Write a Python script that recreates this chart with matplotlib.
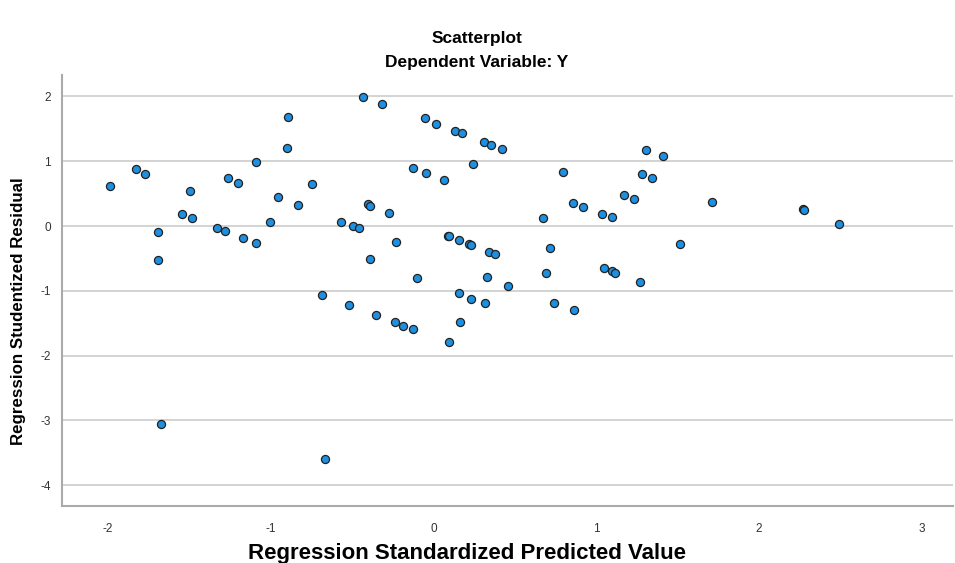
import matplotlib
matplotlib.use("Agg")
import matplotlib.pyplot as plt

# standardized predicted value (x) vs studentized residual (y)
pred = [-1.985, -1.827, -1.772, -1.69, -1.69, -1.543, -1.492, -1.482, -1.329, -1.28,
        -1.168, -1.091, -1.089, -1.262, -1.2, -1.005, -0.954, -0.895, -0.901, -0.828,
        -0.744, -0.569, -0.493, -0.459, -0.432, -0.40, -0.387, -0.39, -0.318, -0.051,
        0.018, 0.13, 0.173, 0.308, 0.353, 0.42, -0.128, -0.047, 0.065, 0.241,
        -0.275, 0.088, 0.094, 0.157, 0.216, 0.232, 0.344, 0.381, -0.228, 0.675,
        0.716, 0.793, 0.86, 0.921, 1.034, 1.095, 1.172, 1.234, 1.305, 1.407,
        1.283, 1.343, 1.515, 0.693, 1.046, 1.097, 1.117, 1.713, 2.269, 2.275,
        2.493, -0.683, -0.52, -0.35, -1.67, -0.665, -0.102, 0.33, 0.459, 1.27,
        0.157, 0.234, 0.318, 0.742, 0.862, -0.236, -0.188, -0.127, 0.161, 0.098]
resid = [0.61, 0.875, 0.81, -0.10, -0.52, 0.185, 0.545, 0.128, -0.026, -0.08,
         -0.19, -0.257, 0.98, 0.735, 0.67, 0.067, 0.44, 1.675, 1.21, 0.324,
         0.648, 0.067, 0.0, -0.03, 1.995, 0.34, 0.313, -0.51, 1.887, 1.66,
         1.574, 1.466, 1.43, 1.296, 1.245, 1.188, 0.895, 0.813, 0.71, 0.952,
         0.205, -0.15, -0.155, -0.216, -0.273, -0.288, -0.396, -0.427, -0.252, 0.123,
         -0.335, 0.833, 0.355, 0.30, 0.19, 0.139, 0.473, 0.417, 1.178, 1.085,
         0.807, 0.745, -0.278, -0.72, -0.648, -0.694, -0.725, 0.375, 0.257, 0.25,
         0.036, -1.06, -1.214, -1.373, -3.06, -3.59, -0.80, -0.782, -0.926, -0.87,
         -1.04, -1.127, -1.183, -1.183, -1.296, -1.476, -1.543, -1.59, -1.476, -1.79]

x_ticks = [-2, -1, 0, 1, 2, 3]
y_ticks = [2, 1, 0, -1, -2, -3, -4]

plt.rcParams['font.family'] = ['Liberation Sans', 'DejaVu Sans']
plt.rcParams['axes.unicode_minus'] = False

fig = plt.figure(figsize=(9.55, 5.63), dpi=100)
ax = fig.add_axes([0.0649, 0.1012, 0.933, 0.7656])

ax.scatter(pred, resid, s=34, c='#1f8fe0', edgecolors='#222222', linewidths=0.9, zorder=3)

ax.set_xlim(-2.28, 3.19)
ax.set_ylim(-4.32, 2.33)
ax.set_xticks(x_ticks)
ax.set_yticks(y_ticks)
ax.yaxis.grid(True, color='#cccccc', linewidth=1.2)
ax.set_axisbelow(True)
ax.tick_params(length=0, labelsize=8.5, colors='#333333', pad=8)
ax.tick_params(axis='x', pad=12)

for side in ['top', 'right']:
    ax.spines[side].set_visible(False)
for side in ['left', 'bottom']:
    ax.spines[side].set_color('#aaaaaa')
    ax.spines[side].set_linewidth(1.5)

fig.text(0.4995, 1 - 38 / 563, 'Scatterplot', ha='center', va='center',
         fontsize=12.5, fontweight='bold')
fig.text(0.4995, 1 - 62 / 563, 'Dependent Variable: Y', ha='center', va='center',
         fontsize=12.5, fontweight='bold')
fig.text(467 / 955, 1 - 553 / 563, 'Regression Standardized Predicted Value',
         ha='center', va='center', fontsize=16, fontweight='bold')
fig.text(19 / 955, 1 - 311 / 563, 'Regression Studentized Residual', ha='center',
         va='center', rotation=90, fontsize=12.2, fontweight='bold')

fig.savefig('out.png', dpi=100)
